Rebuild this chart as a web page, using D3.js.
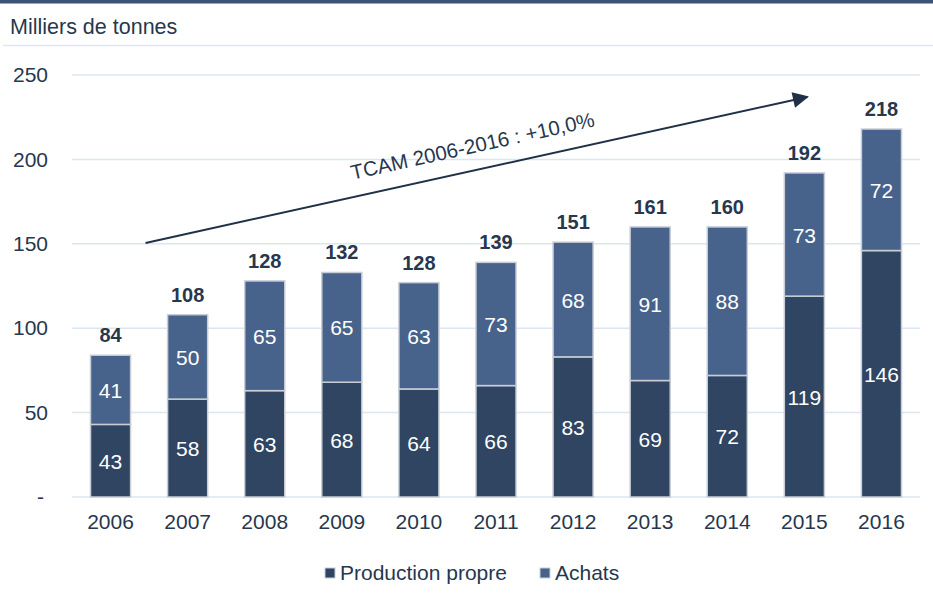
<!DOCTYPE html>
<html>
<head>
<meta charset="utf-8">
<script src="https://cdn.jsdelivr.net/npm/d3@7"></script>
<style>
  body { margin: 0; background: #fff; }
  text { font-family: "Liberation Sans", Arial, sans-serif; }
</style>
</head>
<body>
<div id="chart"></div>
<script>
// data (milliers de tonnes)
var years = ["2006","2007","2008","2009","2010","2011","2012","2013","2014","2015","2016"];
var production = [43, 58, 63, 68, 64, 66, 83, 69, 72, 119, 146];
var achats = [41, 50, 65, 65, 63, 73, 68, 91, 88, 73, 72];
var totals = [84, 108, 128, 132, 128, 139, 151, 161, 160, 192, 218];
var yTicks = [0, 50, 100, 150, 200, 250];

var w = 933, h = 603;
var cDark = "#2f4562", cLight = "#47638b", ink = "#27374d";
var fs = 21;

var svg = d3.select("#chart").append("svg")
    .attr("width", w)
    .attr("height", h);

// truncated title band at the very top
svg.append("rect").attr("x", 0).attr("y", 0).attr("width", w).attr("height", 3.5).attr("fill", "#3b5375");
svg.append("text").attr("x", 10).attr("y", 34).attr("font-size", 21.5).attr("fill", ink)
    .text("Milliers de tonnes");
svg.append("line").attr("x1", 3).attr("x2", w).attr("y1", 45.5).attr("y2", 45.5)
    .attr("stroke", "#dfe6ee").attr("stroke-width", 1.5);

var x = d3.scaleBand().domain(years).range([72, 920]).paddingInner(0.48).paddingOuter(0.24);
var y = d3.scaleLinear().domain([0, 250]).range([497, 75]);

// gridlines
svg.append("g").selectAll("line").data(yTicks).enter().append("line")
    .attr("x1", 72).attr("x2", 920)
    .attr("y1", function(d) { return y(d); })
    .attr("y2", function(d) { return y(d); })
    .attr("stroke", "#dce6f0").attr("stroke-width", 1.5);

// y axis labels
var yAxis = d3.axisLeft(y).tickValues(yTicks).tickSize(0).tickPadding(0)
    .tickFormat(function(d) { return d === 0 ? "-" : d; });
var gy = svg.append("g").attr("transform", "translate(48,0)").call(yAxis);
gy.select(".domain").remove();
gy.selectAll("text").attr("font-size", fs).attr("fill", ink)
    .attr("font-family", "Liberation Sans, Arial, sans-serif");
gy.selectAll(".tick").filter(function(d) { return d === 0; }).select("text").attr("dx", -4);

// x axis labels
var xAxis = d3.axisBottom(x).tickSize(0).tickPadding(0);
var gx = svg.append("g").attr("transform", "translate(0,514)").call(xAxis);
gx.select(".domain").remove();
gx.selectAll("text").attr("font-size", fs).attr("fill", ink)
    .attr("font-family", "Liberation Sans, Arial, sans-serif");

// stacked bars
var rows = years.map(function(yr, i) {
    return { year: yr, production: production[i], achats: achats[i], total: totals[i] };
});
var stack = d3.stack().keys(["production", "achats"])(rows);
var colors = { production: cDark, achats: cLight };

var layers = svg.append("g").selectAll("g").data(stack).enter().append("g")
    .attr("fill", function(d) { return colors[d.key]; });

layers.selectAll("rect").data(function(d) { return d; }).enter().append("rect")
    .attr("x", function(d) { return x(d.data.year); })
    .attr("width", x.bandwidth())
    .attr("y", function(d) { return y(d[1]); })
    .attr("height", function(d) { return y(d[0]) - y(d[1]); })
    .attr("stroke", "#c9ced6").attr("stroke-width", 1.5);

layers.selectAll("text").data(function(d) { return d; }).enter().append("text")
    .attr("x", function(d) { return x(d.data.year) + x.bandwidth() / 2; })
    .attr("y", function(d) { return (y(d[0]) + y(d[1])) / 2 + 8; })
    .attr("text-anchor", "middle").attr("font-size", fs).attr("fill", "#fff")
    .text(function(d) { return d[1] - d[0]; });

// totals
svg.append("g").selectAll("text").data(rows).enter().append("text")
    .attr("x", function(d) { return x(d.year) + x.bandwidth() / 2; })
    .attr("y", function(d) { return y(d.production + d.achats) - 13; })
    .attr("text-anchor", "middle").attr("font-size", 20).attr("font-weight", "bold").attr("fill", ink)
    .text(function(d) { return d.total; });

// CAGR arrow
svg.append("defs").append("marker").attr("id", "arr")
    .attr("viewBox", "0 0 10 10").attr("refX", 9).attr("refY", 5)
    .attr("markerWidth", 24).attr("markerHeight", 16).attr("markerUnits", "userSpaceOnUse")
    .attr("orient", "auto")
    .append("path").attr("d", "M0,0 L10,5 L0,10 z").attr("fill", "#1f3047");

var ax1 = x("2006") + x.bandwidth() / 2 + 35, ay1 = y(150.5);
var ax2 = x("2015") + x.bandwidth() / 2 + 3, ay2 = y(237);
svg.append("line").attr("x1", ax1).attr("y1", ay1).attr("x2", ax2).attr("y2", ay2)
    .attr("stroke", "#1f3047").attr("stroke-width", 2).attr("marker-end", "url(#arr)");

var ang = Math.atan2(ay2 - ay1, ax2 - ax1) * 180 / Math.PI;
svg.append("text")
    .attr("transform", "translate(474,153) rotate(" + ang + ")")
    .attr("text-anchor", "middle").attr("font-size", 20.5).attr("fill", ink)
    .text("TCAM 2006-2016 : +10,0%");

// legend
var legend = [{ name: "Production propre", c: cDark, x: 325 }, { name: "Achats", c: cLight, x: 540 }];
var lg = svg.append("g").selectAll("g").data(legend).enter().append("g")
    .attr("transform", function(d) { return "translate(" + d.x + ",568)"; });
lg.append("rect").attr("width", 10).attr("height", 10).attr("fill", function(d) { return d.c; })
    .attr("stroke", "#c9ced6").attr("stroke-width", 1);
lg.append("text").attr("x", 15).attr("y", 12).attr("font-size", fs).attr("fill", ink)
    .text(function(d) { return d.name; });
</script>
</body>
</html>
